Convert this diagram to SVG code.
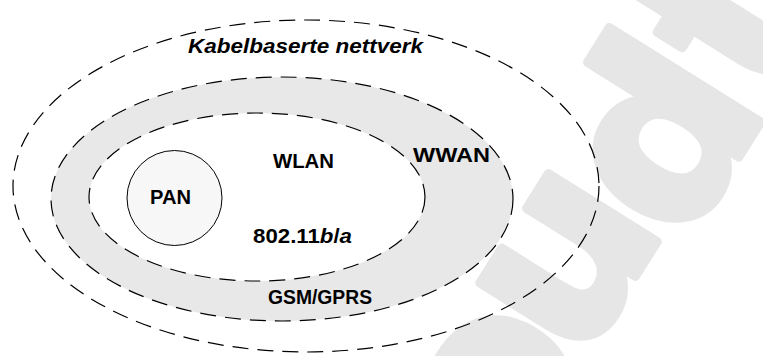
<svg xmlns="http://www.w3.org/2000/svg" width="763" height="356" viewBox="0 0 763 356">
  <style>
    .mark { font-family: "DejaVu Sans", sans-serif; font-weight: bold; fill: #e6e6e7; stroke: #e6e6e7; stroke-width: 9; stroke-linejoin: round; text-anchor: middle; }
    .zone { stroke: #000; stroke-width: 1.2; stroke-dasharray: 16 9; }
    .lbl { font-family: "Liberation Sans", Arial, sans-serif; font-weight: bold; font-size: 20px; fill: #000; }
  </style>

  <!-- background lettering -->
  <g id="watermark">
    <text class="mark" font-size="235" transform="translate(497,392) rotate(-58)" y="64">o</text>
    <text class="mark" font-size="235" transform="translate(569,262) rotate(-58)" y="64">u</text>
    <text class="mark" font-size="235" transform="translate(652,130) rotate(-58)" y="88">d</text>
    <text class="mark" font-size="235" transform="translate(728,14) rotate(-58)" y="78">t</text>
  </g>

  <!-- wired networks: outermost zone -->
  <g id="wired">
    <ellipse class="zone" cx="306" cy="186" rx="293" ry="166" fill="none"/>
    <text class="lbl" x="188" y="53" font-style="italic" textLength="235" lengthAdjust="spacingAndGlyphs">Kabelbaserte nettverk</text>
  </g>

  <!-- wide-area wireless zone -->
  <g id="wwan">
    <ellipse class="zone" cx="282" cy="199" rx="231" ry="122" fill="#e8e8e8"/>
    <text class="lbl" x="413" y="162" textLength="77" lengthAdjust="spacingAndGlyphs">WWAN</text>
    <text class="lbl" x="268" y="304" textLength="104" lengthAdjust="spacingAndGlyphs">GSM/GPRS</text>
  </g>

  <!-- local wireless zone -->
  <g id="wlan">
    <ellipse class="zone" cx="257" cy="197" rx="168" ry="84" fill="#fff"/>
    <text class="lbl" x="273" y="168" textLength="61" lengthAdjust="spacingAndGlyphs">WLAN</text>
    <text class="lbl" x="253" y="243" textLength="99" lengthAdjust="spacingAndGlyphs">802.11<tspan font-style="italic">b</tspan>/<tspan font-style="italic">a</tspan></text>
  </g>

  <!-- personal area network -->
  <g id="pan">
    <circle cx="174.5" cy="198" r="47.5" fill="#f7f7f7" stroke="#000" stroke-width="1"/>
    <text class="lbl" x="150" y="204" textLength="41" lengthAdjust="spacingAndGlyphs">PAN</text>
  </g>

  <g id="connectors"/>
</svg>
